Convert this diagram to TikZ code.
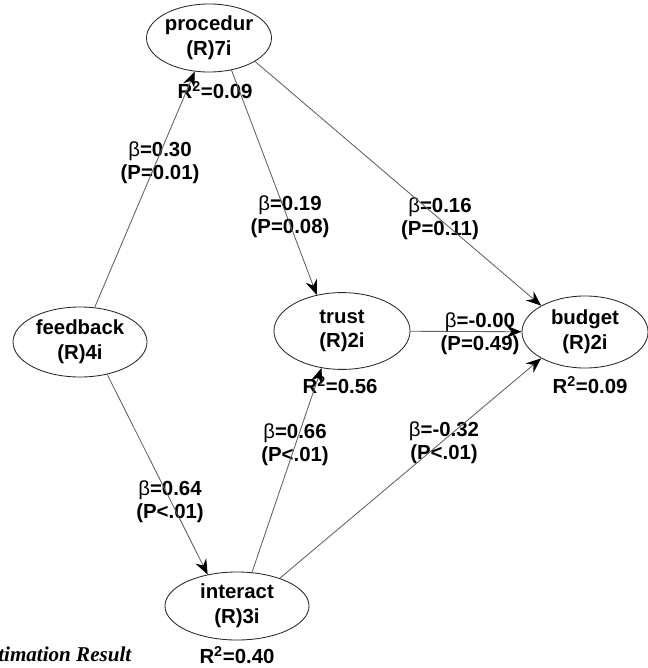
\documentclass[tikz,border=0pt]{standalone}
\usepackage{fontspec}
\setmainfont{Liberation Sans}
\newfontfamily\capfont{Liberation Serif}
\usetikzlibrary{shapes.geometric,arrows.meta}

\tikzset{
  latent/.style={ellipse,draw=black!85,line width=0.6pt,inner sep=0pt,align=center,
    font=\fontsize{14.5}{17.5}\selectfont\bfseries},
  coef/.style={align=center,inner sep=0pt,font=\fontsize{14.5}{16.5}\selectfont\bfseries},
  link/.style={->,line width=0.6pt,gray!75!black}
}
\newcommand{\bet}{{\mdseries β}}

\begin{document}
\begin{tikzpicture}[x=0.025cm,y=-0.025cm,>={Stealth[length=3.8mm,width=3mm,inset=1.3mm,color=black]}]
  \useasboundingbox (0,0) rectangle (647,668);
  % constructs
  \node[latent,minimum width=3.05cm,minimum height=1.7cm] (proc) at (209,38) {procedur\\(R)7i};
  \node[latent,minimum width=3.35cm,minimum height=1.75cm] (feed) at (80,342) {feedback\\(R)4i};
  \node[latent,minimum width=3.4cm,minimum height=1.92cm] (trust) at (342,331) {trust\\(R)2i};
  \node[latent,minimum width=3.15cm,minimum height=1.8cm] (budget) at (585,332) {budget\\(R)2i};
  \node[latent,minimum width=3.6cm,minimum height=1.7cm] (inter) at (237,606) {interact\\(R)3i};
  % R-squared
  \node[coef] (rproc) at (215,90) {R\textsuperscript{2}=0.09};
  \node[coef] (rtrust) at (340,385) {R\textsuperscript{2}=0.56};
  \node[coef] (rbudget) at (590,385) {R\textsuperscript{2}=0.09};
  \node[coef] (rinter) at (237,655) {R\textsuperscript{2}=0.40};
  % path coefficients
  \node[coef] (cfp) at (160,163) {\bet=0.30\\(P=0.01)};
  \node[coef] (cpt) at (290,217) {\bet=0.19\\(P=0.08)};
  \node[coef] (cpb) at (440,219) {\bet=0.16\\(P=0.11)};
  \node[coef] (ctb) at (480,334) {\bet=-0.00\\(P=0.49)};
  \node[coef] (cit) at (295,445) {\bet=0.66\\(P<.01)};
  \node[coef] (cib) at (444,443) {\bet=-0.32\\(P<.01)};
  \node[coef] (cfi) at (170,502) {\bet=0.64\\(P<.01)};
  \node[anchor=west,inner sep=0pt,font=\capfont\bfseries\itshape\fontsize{15}{17}\selectfont] (cap) at (-2,654) {timation Result};
  % arrows
  \draw[link] (feed) -- (proc);
  \draw[link] (proc.-55) -- (trust.125);
  \draw[link] (proc.-27) -- (budget.149);
  \draw[link] (trust) -- (budget);
  \draw[link] (feed.-50) -- (inter.133);
  \draw[link] (inter.66) -- (trust.-119);
  \draw[link] (inter.33) -- (budget.-149);
\end{tikzpicture}
\end{document}
